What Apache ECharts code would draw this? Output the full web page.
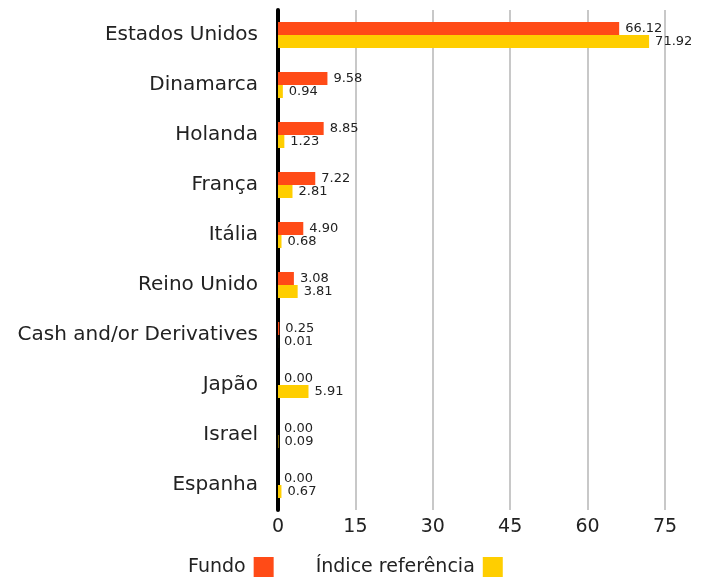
<!DOCTYPE html>
<html><head><meta charset="utf-8">
<script src="https://cdn.jsdelivr.net/npm/echarts@6/dist/echarts.min.js"></script>
<style>html,body{margin:0;padding:0;background:#fff}#c{width:702px;height:581px}</style>
</head><body><div id="c"></div>
<script>
var categories = ['Estados Unidos','Dinamarca','Holanda','França','Itália','Reino Unido','Cash and/or Derivatives','Japão','Israel','Espanha'];
var fundo = [66.12,9.58,8.85,7.22,4.90,3.08,0.25,0.00,0.00,0.00];
var indice = [71.92,0.94,1.23,2.81,0.68,3.81,0.01,5.91,0.09,0.67];
var xTicks = [0,15,30,45,60,75];
var font = '"DejaVu Sans", "Noto Sans", sans-serif';
var chart = echarts.init(document.getElementById('c'), null, {renderer:'canvas'});
var lbl = {show:true, position:'right', distance:6, color:'#222', fontSize:13, fontFamily:font,
  formatter:function(p){return p.value.toFixed(2);}};
chart.setOption({
  animation:false,
  textStyle:{fontFamily:font},
  grid:{left:278, right:37, top:10, bottom:71, containLabel:false},
  legend:{bottom:-1, left:183, align:'right', itemWidth:20, itemHeight:20, itemGap:42, icon:'rect',
    textStyle:{fontSize:19, color:'#222', fontFamily:font, padding:[0,3,0,0]},
    data:['Fundo','Índice referência']},
  xAxis:{type:'value', min:0, max:75, interval:15,
    axisLine:{show:false}, axisTick:{show:false},
    splitLine:{show:true, lineStyle:{color:'#c8c8c8', width:2}},
    axisLabel:{fontSize:19, color:'#222', margin:8, fontFamily:font,
      formatter:function(v){return xTicks.indexOf(v)>=0?String(v):'';}}},
  yAxis:{type:'category', inverse:true, data:categories,
    axisLine:{show:true, lineStyle:{color:'#000', width:4}}, axisTick:{show:false},
    axisLabel:{fontSize:20, color:'#222', margin:20, fontFamily:font}},
  series:[
    {name:'Fundo', type:'bar', data:fundo, barWidth:13, barGap:'0%', itemStyle:{color:'#FF4B17'}, label:lbl},
    {name:'Índice referência', type:'bar', data:indice, barWidth:13, barGap:'0%', itemStyle:{color:'#FFCE00'}, label:lbl}
  ]
});
</script></body></html>
